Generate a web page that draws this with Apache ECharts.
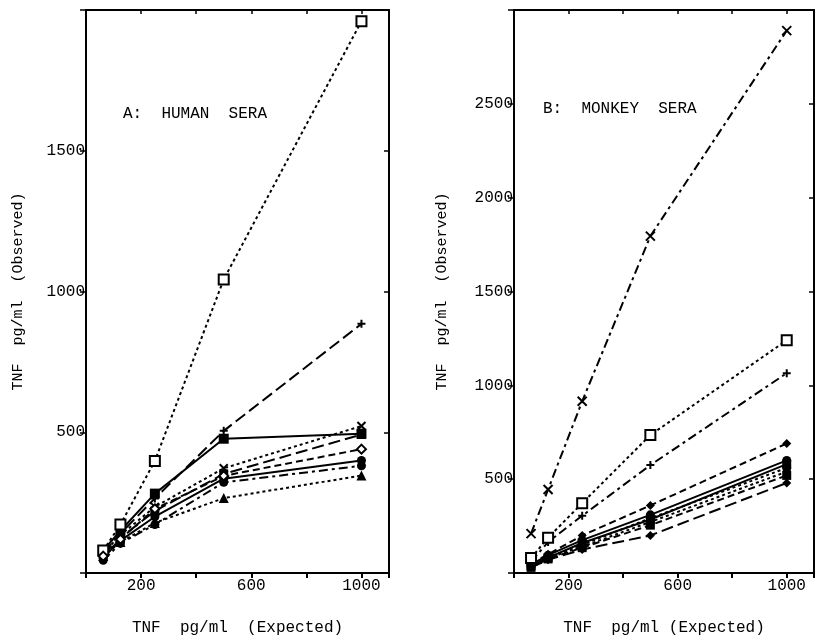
<!DOCTYPE html>
<html>
<head>
<meta charset="utf-8">
<script src="https://cdn.jsdelivr.net/npm/echarts@6/dist/echarts.min.js"></script>
<style>
  html, body { margin: 0; padding: 0; background: #fff; }
  #chart { width: 817px; height: 641px; }
</style>
</head>
<body>
<div id="chart"></div>
<script>
// expected TNF concentrations (x, pg/ml)
const expected = [62.5, 125, 250, 500, 1000]

// A: human sera, observed values
const humanOpenSquare = [80, 172, 398, 1043, 1960]
const humanPlus = [70, 140, 265, 505, 885]
const humanFilledSquare = [80, 150, 282, 477, 495]
const humanCross = [70, 135, 235, 372, 522]
const humanLongDash = [65, 125, 220, 352, 492]
const humanOpenDiamond = [60, 120, 228, 345, 440]
const humanCircle = [55, 115, 200, 335, 400]
const humanCircle2 = [45, 105, 172, 322, 381]
const humanTriangle = [60, 110, 178, 266, 346]

// B: monkey sera, observed values
const monkeyCross = [210, 445, 915, 1795, 2890]
const monkeyOpenSquare = [80, 188, 372, 735, 1240]
const monkeyPlus = [60, 165, 305, 575, 1065]
const monkeyDiamond = [50, 100, 200, 360, 690]
const monkeyCircle = [45, 95, 175, 310, 600]
const monkeySquare = [40, 82, 160, 285, 580]
const monkeyCircle2 = [40, 85, 150, 292, 560]
const monkeyDotted = [35, 80, 140, 272, 540]
const monkeySquare2 = [30, 75, 135, 255, 520]
const monkeyDiamond2 = [30, 70, 125, 200, 480]

const yTicksA = [500, 1000, 1500]
const yTicksB = [500, 1000, 1500, 2000, 2500]
const xTicks = [200, 600, 1000]

const FONT = 'Liberation Mono'
const PLUS = 'path://M5,0L5,10M0,5L10,5'
const CROSS = 'path://M0,0L10,10M10,0L0,10'

const DOT = [3, 3]
const DASH = [7, 4]
const LONG = [12, 5]
const DASHDOT = [9, 4, 3, 4]

function line (data, grid, symbol, dash, kind, size) {
  let itemStyle
  if (kind === 'open') {
    itemStyle = { color: '#fff', borderColor: '#000', borderWidth: 2 }
  } else if (kind === 'stroke') {
    itemStyle = { color: 'transparent', borderColor: '#000', borderWidth: 2 }
  } else {
    itemStyle = { color: '#000', borderColor: '#000', borderWidth: 0 }
  }
  return {
    type: 'line',
    xAxisIndex: grid,
    yAxisIndex: grid,
    data: expected.map((x, i) => [x, data[i]]),
    symbol: symbol,
    symbolSize: size || 9,
    showAllSymbol: true,
    lineStyle: { color: '#000', width: 2, type: dash },
    itemStyle: itemStyle,
    z: kind === 'open' ? 3 : 2
  }
}

function xAxisFor (grid) {
  return [{
    type: 'value',
    gridIndex: grid,
    min: 0,
    max: 1100,
    interval: 200,
    splitLine: { show: false },
    axisLine: { onZero: false, lineStyle: { color: '#000', width: 2 } },
    axisTick: { length: 5, lineStyle: { color: '#000', width: 2 } },
    axisLabel: {
      color: '#000',
      fontFamily: FONT,
      fontSize: 16,
      margin: 5,
      formatter: v => xTicks.includes(v) ? String(v) : ''
    },
    name: grid === 0 ? 'TNF  pg/ml  (Expected)' : 'TNF  pg/ml (Expected)',
    nameLocation: 'middle',
    nameGap: 47,
    nameTextStyle: { color: '#000', fontFamily: FONT, fontSize: 16 }
  }, {
    type: 'value',
    gridIndex: grid,
    position: 'top',
    min: 0,
    max: 1100,
    interval: 200,
    splitLine: { show: false },
    axisLine: { onZero: false, lineStyle: { color: '#000', width: 2 } },
    axisTick: { inside: true, length: 4, lineStyle: { color: '#000', width: 1.5 } },
    axisLabel: { show: false }
  }]
}

function yAxisFor (grid, max, ticks, gap) {
  return [{
    type: 'value',
    gridIndex: grid,
    min: 0,
    max: max,
    interval: 500,
    splitLine: { show: false },
    axisLine: { onZero: false, lineStyle: { color: '#000', width: 2 } },
    axisTick: { length: 6, lineStyle: { color: '#000', width: 1.5 } },
    axisLabel: {
      color: '#000',
      fontFamily: FONT,
      fontSize: 16,
      margin: 1,
      formatter: v => ticks.includes(v) ? String(v) : ''
    },
    name: 'TNF  pg/ml  (Observed)',
    nameLocation: 'middle',
    nameGap: gap,
    nameTextStyle: { color: '#000', fontFamily: FONT, fontSize: 15 }
  }, {
    type: 'value',
    gridIndex: grid,
    position: 'right',
    min: 0,
    max: max,
    interval: 500,
    splitLine: { show: false },
    axisLine: { onZero: false, lineStyle: { color: '#000', width: 2 } },
    axisTick: { inside: true, length: 5, lineStyle: { color: '#000', width: 1.5 } },
    axisLabel: { show: false }
  }]
}

const xa = xAxisFor(0)
const xb = xAxisFor(1)
const ya = yAxisFor(0, 2000, yTicksA, 60)
const yb = yAxisFor(1, 3000, yTicksB, 64)

const option = {
  animation: false,
  backgroundColor: '#fff',
  title: [
    { text: 'A:  HUMAN  SERA', left: 118, top: 101, textStyle: { fontFamily: FONT, fontSize: 16, fontWeight: 'normal', color: '#000' } },
    { text: 'B:  MONKEY  SERA', left: 538, top: 96, textStyle: { fontFamily: FONT, fontSize: 16, fontWeight: 'normal', color: '#000' } }
  ],
  grid: [
    { left: 86, right: 428, top: 10, bottom: 61 },
    { left: 514, right: 3, top: 10, bottom: 61 }
  ],
  // axes 0,1 belong to panel A; 2,3 to panel B
  xAxis: [xa[0], xb[0], xa[1], xb[1]],
  yAxis: [ya[0], yb[0], ya[1], yb[1]],
  series: [
    line(humanOpenSquare, 0, 'rect', DOT, 'open', 10),
    line(humanPlus, 0, PLUS, LONG, 'stroke', 8),
    line(humanFilledSquare, 0, 'rect', 'solid', 'fill', 10),
    line(humanCross, 0, CROSS, DOT, 'stroke', 8),
    line(humanLongDash, 0, 'rect', LONG, 'fill', 9),
    line(humanOpenDiamond, 0, 'diamond', DASH, 'open', 9),
    line(humanCircle, 0, 'circle', 'solid', 'fill', 9),
    line(humanCircle2, 0, 'circle', DASHDOT, 'fill', 9),
    line(humanTriangle, 0, 'triangle', DOT, 'fill', 10),

    line(monkeyCross, 1, CROSS, DASHDOT, 'stroke', 9),
    line(monkeyOpenSquare, 1, 'rect', DOT, 'open', 10),
    line(monkeyPlus, 1, PLUS, DASHDOT, 'stroke', 8),
    line(monkeyDiamond, 1, 'diamond', DASH, 'fill', 9),
    line(monkeyCircle, 1, 'circle', 'solid', 'fill', 9),
    line(monkeySquare, 1, 'rect', 'solid', 'fill', 9),
    line(monkeyCircle2, 1, 'circle', DOT, 'fill', 9),
    line(monkeyDotted, 1, 'circle', DOT, 'fill', 8),
    line(monkeySquare2, 1, 'rect', DASH, 'fill', 9),
    line(monkeyDiamond2, 1, 'diamond', LONG, 'fill', 9)
  ]
}

const chart = echarts.init(document.getElementById('chart'))
chart.setOption(option)
</script>
</body>
</html>
